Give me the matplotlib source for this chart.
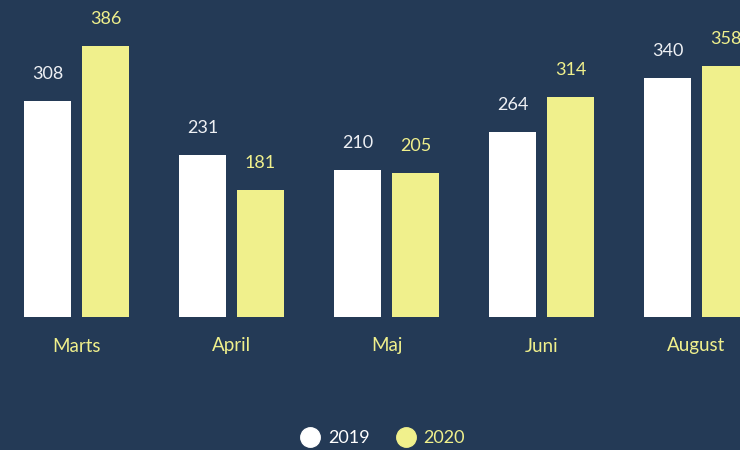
import matplotlib
matplotlib.use("Agg")
import matplotlib.pyplot as plt
import numpy as np

categories = ["Marts", "April", "Maj", "Juni", "August"]
values_2019 = [308, 231, 210, 264, 340]
values_2020 = [386, 181, 205, 314, 358]
series_names = ["2019", "2020"]

BG = "#243a56"
WHITE = "#ffffff"
YELLOW = "#f0f08c"

plt.rcParams['font.family'] = ['Lato', 'DejaVu Sans']

fig = plt.figure(figsize=(7.4, 4.5), dpi=100, facecolor=BG)
ax = fig.add_axes([0, (450 - 317) / 450, 1, 317 / 450])
ax.set_facecolor(BG)

step = 155.0
center0 = 76.5
x = np.arange(len(categories))
w = 47 / step
off = 29 / step
ax.bar(x - off, values_2019, width=w, color=WHITE, zorder=2)
ax.bar(x + off, values_2020, width=w, color=YELLOW, zorder=2)

ax.set_xlim(-center0 / step, (740 - center0) / step)
ax.set_ylim(0, 317 / 0.702)

for xi, v in zip(x, values_2019):
    ax.annotate(str(v), (xi - off, v), xytext=(0, 27), textcoords="offset pixels",
                ha="center", va="center", color="#eef0f4", fontsize=13)
for xi, v in zip(x, values_2020):
    ax.annotate(str(v), (xi + off, v), xytext=(0, 27), textcoords="offset pixels",
                ha="center", va="center", color=YELLOW, fontsize=13)

for xi, c in zip(x, categories):
    ax.annotate(c, (xi, 0), xytext=(0, -29), textcoords="offset pixels",
                ha="center", va="center", color=YELLOW, fontsize=13.5, annotation_clip=False)

ax.axis("off")

# legend
from matplotlib.lines import Line2D
handles = [Line2D([], [], marker="o", linestyle="none", markersize=14,
                  markerfacecolor=WHITE, markeredgecolor=WHITE),
           Line2D([], [], marker="o", linestyle="none", markersize=14,
                  markerfacecolor=YELLOW, markeredgecolor=YELLOW)]
leg = fig.legend(handles, series_names, loc="center", bbox_to_anchor=(383 / 740, 1 - 438 / 450),
                 ncol=2, frameon=False, fontsize=13, handletextpad=0.5, columnspacing=1.5,
                 handlelength=1.0)
for t, col in zip(leg.get_texts(), [WHITE, YELLOW]):
    t.set_color(col)

fig.savefig("out.png", dpi=100, facecolor=BG)
